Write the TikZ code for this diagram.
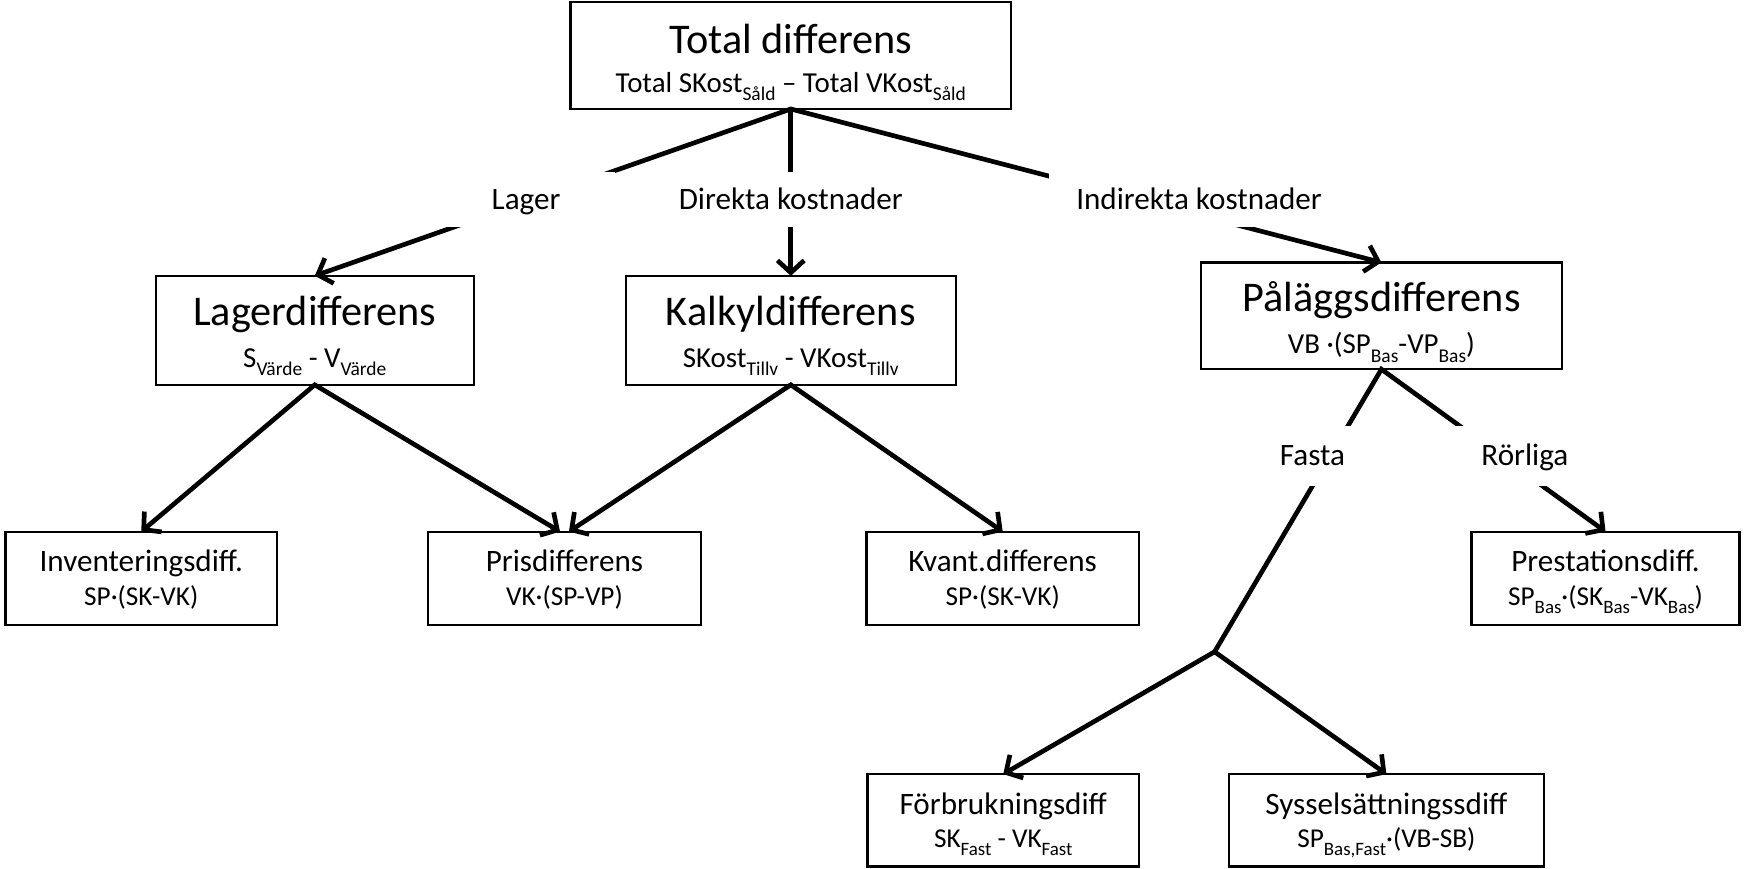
\documentclass[tikz,border=0pt]{standalone}
\usepackage{fontspec}
\setmainfont{Carlito}
\usetikzlibrary{arrows.meta}
\newcommand\fsTitle{\fontsize{38}{40}\selectfont}
\newcommand\fsLab{\fontsize{28}{30}\selectfont}
\newcommand\fsSub{\fontsize{26}{28}\selectfont}
\newcommand\fsSubS{\fontsize{24.5}{26}\selectfont}
\newcommand\sbs[1]{\raisebox{-0.3em}{\fontsize{17.5}{18}\selectfont #1}}
\newcommand\sbsS[1]{\raisebox{-0.3em}{\fontsize{17}{18}\selectfont #1}}
\begin{document}
\begin{tikzpicture}[x=1pt,y=-1pt,
  box/.style={draw,line width=2pt,inner sep=0pt,outer sep=0pt,fill=white},
  conn/.style={line width=4.2pt},
  arr/.style={conn,-{Straight Barb[length=11pt,width=24pt]}},
  arrs/.style={conn,{Straight Barb[length=11pt,width=24pt]}-{Straight Barb[length=11pt,width=24pt]}},
  lab/.style={fill=white,inner sep=0pt,text height=17.7pt,text depth=0pt,font=\fsLab},
  ttl/.style={anchor=base,inner sep=0pt,font=\fsTitle},
  sml/.style={anchor=base,inner sep=0pt,font=\fsLab},
  sbt/.style={anchor=base,inner sep=0pt,font=\fsSub},
  sbtS/.style={anchor=base,inner sep=0pt,font=\fsSubS}]
\useasboundingbox[fill=white] (0,0) rectangle (1568,781);

% boxes
\node[box,minimum width=396pt,minimum height=96pt] (total) at (711,50) {};
\node[box,minimum width=286pt,minimum height=98pt] (lager) at (283,297) {};
\node[box,minimum width=297pt,minimum height=98pt] (kalk) at (711,297) {};
\node[box,minimum width=324pt,minimum height=96pt] (pal) at (1242,284) {};
\node[box,minimum width=244pt,minimum height=84pt] (inv) at (127,520) {};
\node[box,minimum width=245pt,minimum height=84pt] (pris) at (507.5,520) {};
\node[box,minimum width=245pt,minimum height=84pt] (kvant) at (901.5,520) {};
\node[box,minimum width=241pt,minimum height=84pt] (prest) at (1443.5,520) {};
\node[box,minimum width=244pt,minimum height=83pt] (forb) at (902,737.5) {};
\node[box,minimum width=283pt,minimum height=83pt] (syss) at (1246.5,737.5) {};
\coordinate (j2) at (1092,586);

% box texts
\node[ttl] (totalT) at ([yshift=-46pt]total.north) {Total differens};
\node[sbt] (totalS) at ([yshift=-81pt]total.north) {Total SKost\sbs{Såld} – Total VKost\sbs{Såld}};
\node[ttl] (lagerT) at ([yshift=-45pt]lager.north) {Lagerdifferens};
\node[sbt] (lagerS) at ([yshift=-82pt]lager.north) {S\sbs{Värde} - V\sbs{Värde}};
\node[ttl] (kalkT) at ([yshift=-45pt]kalk.north) {Kalkyldifferens};
\node[sbt] (kalkS) at ([yshift=-82pt]kalk.north) {SKost\sbs{Tillv} - VKost\sbs{Tillv}};
\node[ttl] (palT) at ([yshift=-44pt]pal.north) {Påläggsdifferens};
\node[sbt] (palS) at ([yshift=-82pt]pal.north) {VB ·(SP\sbs{Bas}-VP\sbs{Bas})};
\node[sml] (invT) at ([yshift=-36pt]inv.north) {Inventeringsdiff.};
\node[sbtS] (invS) at ([yshift=-66pt]inv.north) {SP·(SK-VK)};
\node[sml] (prisT) at ([yshift=-36pt]pris.north) {Prisdifferens};
\node[sbtS] (prisS) at ([yshift=-66pt]pris.north) {VK·(SP-VP)};
\node[sml] (kvantT) at ([yshift=-36pt]kvant.north) {Kvant.differens};
\node[sbtS] (kvantS) at ([yshift=-66pt]kvant.north) {SP·(SK-VK)};
\node[sml] (prestT) at ([yshift=-36pt]prest.north) {Prestationsdiff.};
\node[sbtS] (prestS) at ([yshift=-66pt]prest.north) {SP\sbsS{Bas}·(SK\sbsS{Bas}-VK\sbsS{Bas})};
\node[sml] (forbT) at ([yshift=-36pt]forb.north) {Förbrukningsdiff};
\node[sbtS] (forbS) at ([yshift=-66pt]forb.north) {SK\sbsS{Fast} - VK\sbsS{Fast}};
\node[sml] (syssT) at ([yshift=-36pt]syss.north) {Sysselsättningssdiff};
\node[sbtS] (syssS) at ([yshift=-66pt]syss.north) {SP\sbsS{Bas,Fast}·(VB-SB)};

% connectors
\draw[arrs] (lager.north) -- (total.south) -- (pal.north);
\draw[arr] (total.south) -- (kalk.north);
\draw[arrs] (inv.north) -- (lager.south) -- ([xshift=-4pt]pris.north);
\draw[arrs] ([xshift=4pt]pris.north) -- (kalk.south) -- (kvant.north);
\draw[arrs] (forb.north) -- (j2) -- (pal.south) -- (prest.north);
\draw[arr] (j2) -- (syss.north);

% branch labels (white boxes over the lines)
\node[lab,minimum width=160pt,minimum height=49pt] (lLager) at (473,179.3) {Lager};
\node[lab,minimum width=230pt,minimum height=49pt] (lDir) at (711,179.3) {Direkta kostnader};
\node[lab,minimum width=270pt,minimum height=49pt] (lInd) at (1078,179.3) {Indirekta kostnader};
\node[lab,minimum width=100pt,minimum height=54pt] (lFast) at (1180,410) {Fasta};
\node[lab,minimum width=124pt,minimum height=54pt] (lRor) at (1371,410) {Rörliga};
\end{tikzpicture}
\end{document}
